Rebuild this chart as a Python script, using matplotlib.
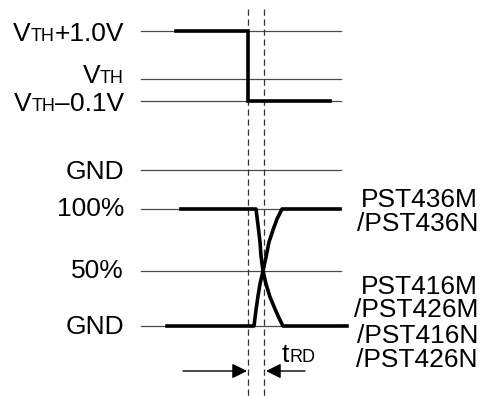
import matplotlib
matplotlib.use('Agg')
import matplotlib.pyplot as plt

plt.rcParams['font.family'] = ['Liberation Sans', 'DejaVu Sans']

# reference levels (pixel rows) and their labels, given as (text, size) pieces
ref_y = [31, 79, 101, 170, 209, 271, 326]
ref_base = [41, 83, 111, 179, 216, 278, 334]
ref_labels = [
    [('V', 19), ('TH', 13), ('+1.0V', 19)],
    [('V', 19), ('TH', 13)],
    [('V', 19), ('TH', 13), ('\u2013', 19), ('0.1V', 19)],
    [('GND', 19)],
    [('100%', 19)],
    [('50%', 19)],
    [('GND', 19)],
]

# input waveform (VTH+1.0V -> VTH-0.1V)
vin_x = [176, 248, 248, 330]
vin_y = [31, 31, 101, 101]

# output waveforms
fall_x = [181, 256, 258, 260, 261, 263, 266, 270, 275, 279, 283, 347]
fall_y = [209, 209, 225, 242, 256, 271, 284, 297, 309, 318, 326, 326]
rise_x = [167, 254, 256, 258, 260, 263, 266, 269, 273, 277, 282, 340]
rise_y = [326, 326, 310, 296, 284, 271, 257, 242, 230, 219, 209, 209]

# markers for tRD
dash_x = [248, 264]

# part numbers on the right
part_names = ['PST436M', '/PST436N', 'PST416M', '/PST426M', '/PST416N', '/PST426N']
part_base = [207, 231, 294, 317, 343, 367]

fig = plt.figure(figsize=(4.91, 3.96), dpi=100)
ax = fig.add_axes([0, 0, 1, 1])
ax.set_xlim(0, 491)
ax.set_ylim(396, 0)
ax.axis('off')

for y in ref_y:
    ax.plot([141, 341], [y, y], color='#4a4a4a', lw=0.9)

for x in dash_x:
    ax.plot([x, x], [9, 396], color='#333333', lw=0.9, linestyle=(0, (5, 3)))

ax.plot(vin_x, vin_y, color='black', lw=2.6, solid_joinstyle='miter')
ax.plot(fall_x, fall_y, color='black', lw=2.6, solid_joinstyle='round')
ax.plot(rise_x, rise_y, color='black', lw=2.6, solid_joinstyle='round')

# arrows
ap = dict(arrowstyle='-|>,head_length=0.9,head_width=0.45', color='black',
          lw=1.0, shrinkA=0, shrinkB=0)
ax.annotate('', xy=(247, 371), xytext=(183, 371), arrowprops=ap)
ax.annotate('', xy=(266, 371), xytext=(305, 371), arrowprops=ap)

renderer = fig.canvas.get_renderer()


def rich(x, y, parts, ha='right'):
    texts = [ax.text(0, y, s, fontsize=fs, va='baseline', ha='left') for s, fs in parts]
    widths = [t.get_window_extent(renderer).width for t in texts]
    total = sum(widths)
    cur = x - total if ha == 'right' else x
    for t, w in zip(texts, widths):
        t.set_x(cur)
        cur += w


for parts, yb in zip(ref_labels, ref_base):
    rich(124, yb, parts)

rich(282, 362, [('t', 19), ('RD', 13)], ha='left')

for name, yb in zip(part_names, part_base):
    ax.text(478, yb, name, fontsize=19, va='baseline', ha='right')

fig.savefig('out.png', dpi=100)
